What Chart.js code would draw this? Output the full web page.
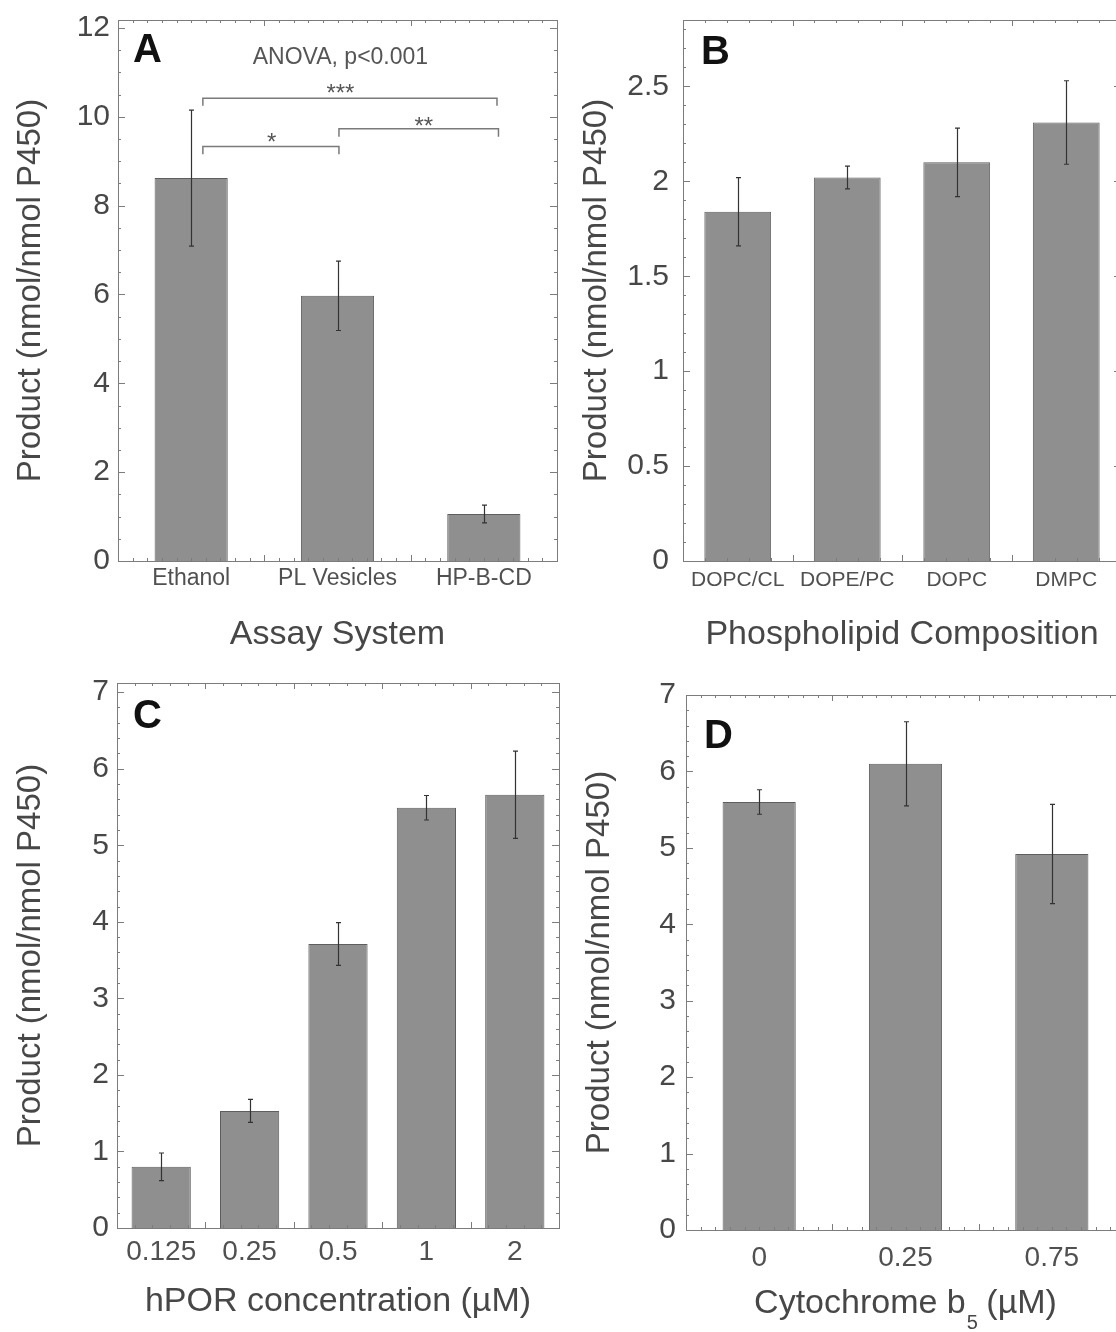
<!DOCTYPE html>
<html>
<head>
<meta charset="utf-8">
<script src="https://cdn.jsdelivr.net/npm/chart.js@4.4.1/dist/chart.umd.min.js"></script>
<style>
html, body { margin: 0; padding: 0; background: #fff; overflow: hidden; }
#wrap { position: relative; width: 1116px; height: 1332px; overflow: hidden; background: #fff; }
#wrap canvas { position: absolute; }
</style>
</head>
<body>
<div id="wrap">
    <canvas id="chartA" width="560" height="660" style="left:0;top:0;width:560px;height:660px"></canvas>
    <canvas id="chartB" width="580" height="660" style="left:560px;top:0;width:580px;height:660px"></canvas>
    <canvas id="chartC" width="560" height="672" style="left:0;top:660px;width:560px;height:672px"></canvas>
    <canvas id="chartD" width="580" height="672" style="left:560px;top:660px;width:580px;height:672px"></canvas>
</div>
<script>
// panel A - assay system
const assayLabels = ['Ethanol', 'PL Vesicles', 'HP-B-CD'];
const assayValues = [8.62, 5.97, 1.06];
const assayErrors = [1.53, 0.78, 0.2];

// panel B - phospholipid composition
const lipidLabels = ['DOPC/CL', 'DOPE/PC', 'DOPC', 'DMPC'];
const lipidValues = [1.84, 2.02, 2.10, 2.31];
const lipidErrors = [0.18, 0.06, 0.18, 0.22];

// panel C - hPOR concentration
const porLabels = ['0.125', '0.25', '0.5', '1', '2'];
const porValues = [0.80, 1.53, 3.71, 5.49, 5.66];
const porErrors = [0.18, 0.15, 0.28, 0.16, 0.57];

// panel D - cytochrome b5
const b5Labels = ['0', '0.25', '0.75'];
const b5Values = [5.60, 6.10, 4.92];
const b5Errors = [0.16, 0.55, 0.65];

// significance brackets for panel A (category index, value units)
const sigBrackets = [
    { from: 0.08, to: 2.09, level: 10.42, drop: 0.17, mark: '***', markAt: 1.02, markLevel: 10.66 },
    { from: 1.01, to: 2.10, level: 9.73, drop: 0.18, mark: '**', markAt: 1.59, markLevel: 9.92 },
    { from: 0.08, to: 1.01, level: 9.33, drop: 0.17, mark: '*', markAt: 0.55, markLevel: 9.55 },
];
const anovaNote = { text: 'ANOVA, p<0.001', at: 1.02, level: 11.33 };

const FONT = "'Liberation Sans', Arial, Helvetica, sans-serif";
const BAR_FILL = '#8f8f8f';
const BAR_EDGE = '#5e5e5e';
const AXIS = '#7c7c7c';
const TEXT = '#474747';
const Y_TITLE = 'Product (nmol/nmol P450)';

const framePlugin = {
    id: 'frame',
    afterDatasetsDraw(chart, args, o) {
        const { ctx, chartArea: a, scales: { x, y } } = chart;
        ctx.save();
        ctx.strokeStyle = AXIS;
        ctx.lineWidth = 1;
        ctx.strokeRect(Math.round(a.left) + 0.5, Math.round(a.top) + 0.5,
            Math.round(a.right - a.left), Math.round(a.bottom - a.top));
        ctx.beginPath();
        const nY = Math.floor(y.max / o.yMinor + 1e-6);
        for (let i = 0; i <= nY; i++) {
            const v = i * o.yMinor;
            const r = v / o.yMajor;
            const len = Math.abs(r - Math.round(r)) < 1e-6 ? 7 : 3;
            const py = Math.round(y.getPixelForValue(v)) + 0.5;
            ctx.moveTo(a.left, py); ctx.lineTo(a.left + len, py);
            ctx.moveTo(a.right, py); ctx.lineTo(a.right - len, py);
        }
        const n = chart.data.labels.length;
        const steps = Math.round(n / o.xMinor);
        for (let i = 0; i <= steps; i++) {
            const v = -0.5 + i * o.xMinor;
            const r = v + 0.5;
            const len = Math.abs(r - Math.round(r)) < 1e-6 ? 6 : 3;
            const px = Math.round(x.getPixelForValue(v)) + 0.5;
            ctx.moveTo(px, a.bottom); ctx.lineTo(px, a.bottom - len);
            ctx.moveTo(px, a.top); ctx.lineTo(px, a.top + len);
        }
        ctx.stroke();
        // panel letter
        ctx.fillStyle = '#111';
        ctx.font = `bold 40px ${FONT}`;
        ctx.textAlign = 'left';
        ctx.textBaseline = 'middle';
        ctx.fillText(o.letter, a.left + o.letterDx, a.top + o.letterDy);
        ctx.restore();
    }
};

const errorBarPlugin = {
    id: 'errorBars',
    afterDatasetsDraw(chart) {
        const { ctx, scales: { y } } = chart;
        const ds = chart.data.datasets[0];
        const meta = chart.getDatasetMeta(0);
        ctx.save();
        ctx.strokeStyle = '#333';
        ctx.lineWidth = 1.2;
        meta.data.forEach((bar, i) => {
            const v = ds.data[i], e = ds.errors[i];
            const px = Math.round(bar.x) + 0.5;
            const top = y.getPixelForValue(v + e);
            const bot = y.getPixelForValue(v - e);
            ctx.beginPath();
            ctx.moveTo(px, top); ctx.lineTo(px, bot);
            ctx.moveTo(px - 2.5, top); ctx.lineTo(px + 2.5, top);
            ctx.moveTo(px - 2.5, bot); ctx.lineTo(px + 2.5, bot);
            ctx.stroke();
        });
        ctx.restore();
    }
};

const sigPlugin = {
    id: 'sig',
    afterDatasetsDraw(chart) {
        const { ctx, scales: { x, y } } = chart;
        ctx.save();
        ctx.strokeStyle = '#7a7a7a';
        ctx.lineWidth = 1.5;
        ctx.fillStyle = '#555';
        ctx.textAlign = 'center';
        sigBrackets.forEach((b) => {
            const x0 = x.getPixelForValue(b.from), x1 = x.getPixelForValue(b.to);
            const yl = y.getPixelForValue(b.level), yd = y.getPixelForValue(b.level - b.drop);
            ctx.beginPath();
            ctx.moveTo(x0, yd); ctx.lineTo(x0, yl); ctx.lineTo(x1, yl); ctx.lineTo(x1, yd);
            ctx.stroke();
            ctx.font = `24px ${FONT}`;
            ctx.textBaseline = 'alphabetic';
            ctx.fillText(b.mark, x.getPixelForValue(b.markAt), y.getPixelForValue(b.markLevel) + 24 * 0.57);
        });
        ctx.font = `23px ${FONT}`;
        ctx.textBaseline = 'middle';
        ctx.fillText(anovaNote.text, x.getPixelForValue(anovaNote.at), y.getPixelForValue(anovaNote.level));
        ctx.restore();
    }
};

// x title of panel D needs a subscript, so it is drawn by hand
const b5TitlePlugin = {
    id: 'b5Title',
    afterDraw(chart) {
        const { ctx, chartArea: a } = chart;
        ctx.save();
        ctx.fillStyle = TEXT;
        ctx.textBaseline = 'alphabetic';
        ctx.textAlign = 'left';
        const big = `34px ${FONT}`, small = `20px ${FONT}`;
        const p1 = 'Cytochrome b', sub = '5', p2 = ' (\u00b5M)';
        ctx.font = big;
        const w1 = ctx.measureText(p1).width, w3 = ctx.measureText(p2).width;
        ctx.font = small;
        const w2 = ctx.measureText(sub).width;
        let sx = (a.left + a.right) / 2 - (w1 + w2 + w3) / 2;
        const base = a.bottom + 83;
        ctx.font = big;
        ctx.fillText(p1, sx, base);
        ctx.font = small;
        ctx.fillText(sub, sx + w1 + 1, base + 16);
        ctx.font = big;
        ctx.fillText(p2, sx + w1 + w2, base);
        ctx.restore();
    }
};

function makePanel(id, p) {
    const canvas = document.getElementById(id);
    const box = p.box;
    const extra = p.plugins || [];
    return new Chart(canvas, {
        type: 'bar',
        data: {
            labels: p.labels,
            datasets: [{
                data: p.values,
                errors: p.errors,
                backgroundColor: BAR_FILL,
                borderColor: BAR_EDGE,
                borderWidth: 1,
                borderSkipped: 'bottom',
                barPercentage: p.barPct,
                categoryPercentage: 1,
            }],
        },
        options: {
            responsive: false,
            animation: false,
            events: [],
            layout: {
                autoPadding: false,
                padding: { left: 0, top: box.top, right: canvas.width - box.right, bottom: 0 },
            },
            plugins: {
                legend: { display: false },
                tooltip: { enabled: false },
                frame: p.frame,
            },
            scales: {
                x: {
                    grid: { display: false, drawTicks: false },
                    border: { display: false },
                    ticks: {
                        autoSkip: false, maxRotation: 0, color: '#505050',
                        padding: p.xPad, font: { family: FONT, size: p.xFont },
                    },
                    title: {
                        display: !!p.xTitle, text: p.xTitle, color: TEXT,
                        font: { family: FONT, size: 34 }, padding: { top: 0, bottom: p.xTitlePad },
                    },
                    afterFit: (s) => {
                        s.height = canvas.height - box.bottom;
                        s.paddingLeft = 0;
                        s.paddingRight = 0;
                    },
                },
                y: {
                    min: 0,
                    max: p.yMax,
                    grid: { display: false, drawTicks: false },
                    border: { display: false },
                    ticks: {
                        stepSize: p.frame.yMajor, includeBounds: false, color: TEXT,
                        padding: p.yPad, font: { family: FONT, size: 30 },
                        callback: (v) => String(Number(v.toFixed(3))),
                    },
                    title: {
                        display: true, text: Y_TITLE, color: TEXT,
                        font: { family: FONT, size: 33 }, padding: { top: p.yTitlePad, bottom: 0 },
                    },
                    afterFit: (s) => {
                        s.width = box.left;
                        s.paddingTop = 0;
                        s.paddingBottom = 0;
                    },
                },
            },
        },
        plugins: [framePlugin, errorBarPlugin, ...extra],
    });
}

makePanel('chartA', {
    labels: assayLabels, values: assayValues, errors: assayErrors,
    box: { left: 118, top: 20, right: 557, bottom: 561 },
    yMax: 12.18, barPct: 0.5, xFont: 23, xPad: 4, yPad: 8, yTitlePad: 11,
    xTitle: 'Assay System', xTitlePad: 5,
    frame: { yMajor: 2, yMinor: 0.5, xMinor: 0.1, letter: 'A', letterDx: 15, letterDy: 31 },
    plugins: [sigPlugin],
});

makePanel('chartB', {
    labels: lipidLabels, values: lipidValues, errors: lipidErrors,
    box: { left: 123, top: 20, right: 561, bottom: 561 },
    yMax: 2.85, barPct: 0.61, xFont: 21, xPad: 7, yPad: 14, yTitlePad: 17,
    xTitle: 'Phospholipid Composition', xTitlePad: 5,
    frame: { yMajor: 0.5, yMinor: 0.1, xMinor: 0.2, letter: 'B', letterDx: 18, letterDy: 33 },
});

makePanel('chartC', {
    labels: porLabels, values: porValues, errors: porErrors,
    box: { left: 117, top: 23, right: 559, bottom: 568 },
    yMax: 7.12, barPct: 0.67, xFont: 28, xPad: 7, yPad: 8, yTitlePad: 11,
    xTitle: 'hPOR concentration (\u00b5M)', xTitlePad: 10,
    frame: { yMajor: 1, yMinor: 0.2, xMinor: 0.2, letter: 'C', letterDx: 16, letterDy: 34 },
});

makePanel('chartD', {
    labels: b5Labels, values: b5Values, errors: b5Errors,
    box: { left: 126, top: 35, right: 565, bottom: 570 },
    yMax: 7, barPct: 0.5, xFont: 28, xPad: 11, yPad: 10, yTitlePad: 20,
    xTitle: '', xTitlePad: 10,
    frame: { yMajor: 1, yMinor: 0.2, xMinor: 0.1, letter: 'D', letterDx: 18, letterDy: 42 },
    plugins: [b5TitlePlugin],
});
</script>
</body>
</html>
